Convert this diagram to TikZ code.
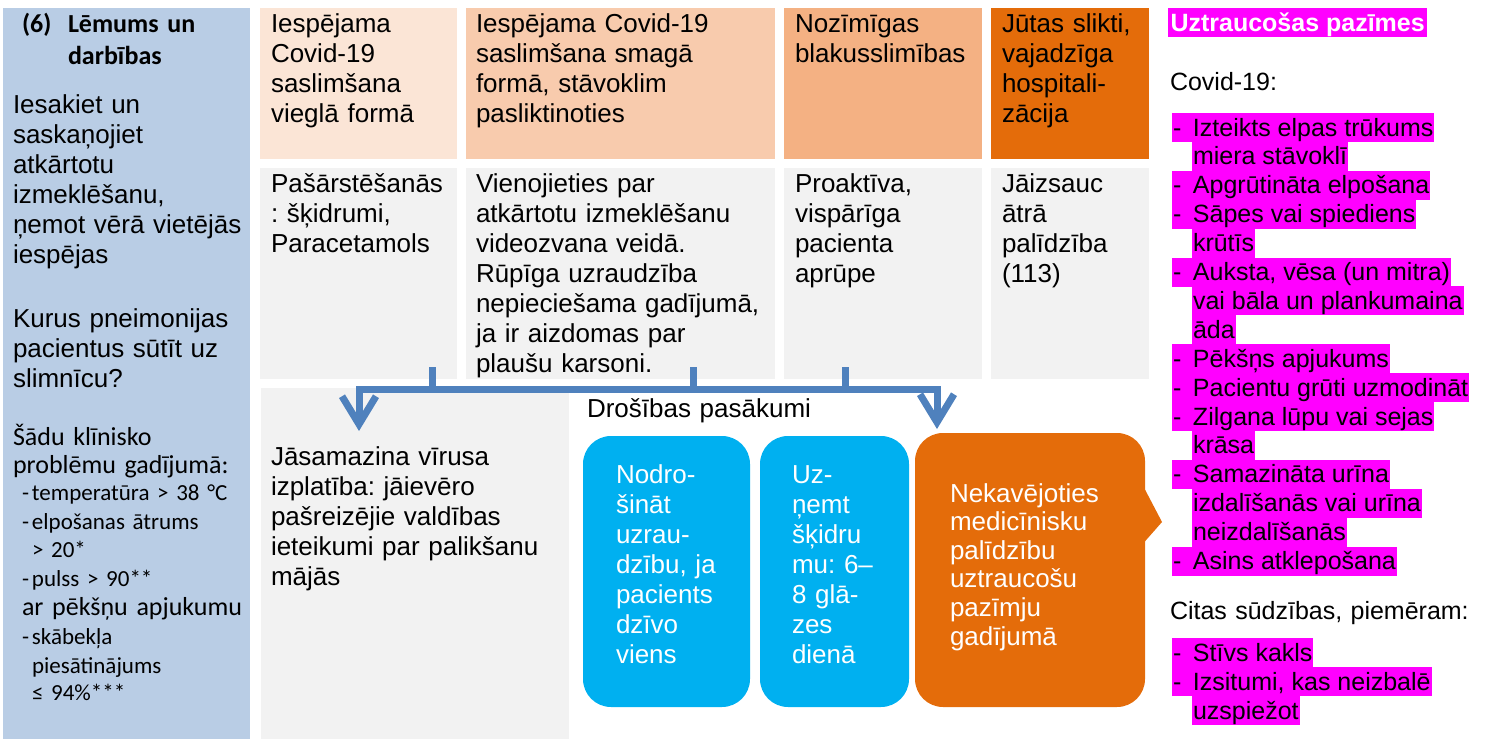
\documentclass[tikz,border=0pt]{standalone}
\usepackage{fontspec}
\setmainfont{Liberation Sans}
\newfontfamily\calfont{Carlito}
\usetikzlibrary{arrows.meta}
\definecolor{sidebg}{HTML}{B9CDE5}
\definecolor{peachA}{HTML}{FBE5D6}
\definecolor{peachB}{HTML}{F8CBAD}
\definecolor{peachC}{HTML}{F4B183}
\definecolor{darkorange}{HTML}{E46C0A}
\definecolor{cellgrey}{HTML}{F2F2F2}
\definecolor{skyblue}{HTML}{00B0F0}
\definecolor{flowblue}{HTML}{4F81BD}
\definecolor{warnpink}{HTML}{FF00FF}
\frenchspacing
\begin{document}
\begin{tikzpicture}[x=1pt,y=-1pt,
  every node/.style={inner sep=0pt,outer sep=0pt},
  cell/.style={anchor=north west,minimum width=#1},
  txt/.style={anchor=base west,text width=330pt,align=left,font=\fontsize{26}{30}\selectfont},
  wtxt/.style={txt,text=white},
  hl/.style={anchor=north west,fill=warnpink,inner xsep=1pt,text height=23pt,text depth=6pt,font=\fontsize{25}{29}\selectfont},
  flow/.style={draw=flowblue,line width=7pt},
  flowarrow/.style={flow,{Straight Barb[length=28pt,width=34pt]}-{Straight Barb[length=28pt,width=34pt]}}]
  \useasboundingbox (0,0) rectangle (1486,739);
  % left panel
  \node[cell=247pt,minimum height=731pt,fill=sidebg] (side) at (3,8) {};
  \node[txt,font=\calfont\bfseries\fontsize{26}{32}\selectfont] (num) at (22,32) {(6)};
  \node[txt,font=\calfont\bfseries\fontsize{26}{32}\selectfont] (title) at (68,32) {Lēmums un\\darbības};
  \node[txt] (advice) at (13,113) {Iesakiet un\\saskaņojiet\\atkārtotu\\izmeklēšanu,\\ņemot vērā vietējās\\iespējas};
  \node[txt] (ask) at (13,327) {Kurus pneimonijas\\pacientus sūtīt uz\\slimnīcu?};
  \foreach \xx/\yy/\fs/\lbl [count=\n] in {13/445/26/Šādu klīnisko,13/473/26/problēmu gadījumā:,
      22/500/23/\makebox[10pt][l]{-}temperatūra > 38 °C,22/529/23/\makebox[10pt][l]{-}elpošanas ātrums,
      32/557/23/> 20*,22/586/23/\makebox[10pt][l]{-}pulss > 90**,22/615/26/ar pēkšņu apjukumu,
      22/644/23/\makebox[10pt][l]{-}skābekļa,32/673/23/piesātinājums,32/700/23/≤ 94\%***}
    \node[txt,font=\calfont\fontsize{\fs}{\fs}\selectfont] (crit\n) at (\xx,\yy) {\lbl};
  % grid of cells
  \foreach \xx/\ww/\cc [count=\n] in {260/197/peachA,466/309/peachB,784/198/peachC,991/158/darkorange}{
    \node[cell=\ww pt,minimum height=151pt,fill=\cc] (h\n) at (\xx,8) {};
    \node[cell=\ww pt,minimum height=211pt,fill=cellgrey] (r\n) at (\xx,168) {};
  }
  \node[txt] (h1t) at ([shift={(11,24)}]h1.north west) {Iespējama\\Covid-19\\saslimšana\\vieglā formā};
  \node[txt] (h2t) at ([shift={(10,24)}]h2.north west) {Iespējama Covid-19\\saslimšana smagā\\formā, stāvoklim\\pasliktinoties};
  \node[txt] (h3t) at ([shift={(11,24)}]h3.north west) {Nozīmīgas\\blakusslimības};
  \node[txt] (h4t) at ([shift={(11,24)}]h4.north west) {Jūtas slikti,\\vajadzīga\\hospitali-\\zācija};
  \node[txt] (r1t) at ([shift={(11,24)}]r1.north west) {Pašārstēšanās\\: šķidrumi,\\Paracetamols};
  \node[txt] (r2t) at ([shift={(10,24)}]r2.north west) {Vienojieties par\\atkārtotu izmeklēšanu\\videozvana veidā.\\Rūpīga uzraudzība\\nepieciešama gadījumā,\\ja ir aizdomas par\\plaušu karsoni.};
  \node[txt] (r3t) at ([shift={(11,24)}]r3.north west) {Proaktīva,\\vispārīga\\pacienta\\aprūpe};
  \node[txt] (r4t) at ([shift={(11,24)}]r4.north west) {Jāizsauc\\ātrā\\palīdzība\\(113)};
  % lower part
  \node[cell=308pt,minimum height=351pt,fill=cellgrey] (home) at (261,388) {};
  \node[txt] (homet) at ([shift={(10,77)}]home.north west) {Jāsamazina vīrusa\\izplatība: jāievēro\\pašreizējie valdības\\ieteikumi par palikšanu\\mājās};
  \node[txt] (safe) at (587,417) {Drošības pasākumi};
  \node[cell=167pt,minimum height=271pt,fill=skyblue,rounded corners=28pt] (alone) at (583,436) {};
  \node[wtxt] (alonet) at ([shift={(33,47)}]alone.north west) {Nodro-\\šināt\\uzrau-\\dzību, ja\\pacients\\dzīvo\\viens};
  \node[cell=149pt,minimum height=271pt,fill=skyblue,rounded corners=28pt] (fluid) at (760,436) {};
  \node[wtxt] (fluidt) at ([shift={(32,47)}]fluid.north west) {Uz-\\ņemt\\šķidru\\mu: 6–\\8 glā-\\zes\\dienā};
  \node[cell=230pt,minimum height=274pt,fill=darkorange,rounded corners=28pt] (urgent) at (915,433) {};
  \fill[darkorange] (1140,480) -- (1162,522) -- (1140,547) -- cycle;
  \node[wtxt,font=\fontsize{26}{28.6}\selectfont] (urgentt) at ([shift={(35,69)}]urgent.north west) {Nekavējoties\\medicīnisku\\palīdzību\\uztraucošu\\pazīmju\\gadījumā};
  % arrows
  \coordinate (busL) at (359,389);
  \coordinate (busR) at (937,389);
  \coordinate (tipL) at (359,431);
  \coordinate (tipR) at (937,429);
  \foreach \xx [count=\n] in {432,693,845}{
    \coordinate (s\n) at (\xx,367);
    \draw[flow] (s\n) -- (s\n |- busL);
  }
  \draw[flowarrow] (tipL) -- (busL) -- (busR) -- (tipR);
  % warning signs
  \node[anchor=north west,fill=warnpink,text=white,font=\bfseries\fontsize{25}{29}\selectfont,inner xsep=2.5pt,text height=23pt,text depth=6pt] (signs) at (1168,8) {Uztraucošas pazīmes};
  \node[txt,font=\fontsize{25}{29}\selectfont] (covid) at (1170,90) {Covid-19:};
  \foreach \k/\lbl in {0/Izteikts elpas trūkums,2/Apgrūtināta elpošana,3/Sāpes vai spiediens,5/{Auksta, vēsa (un mitra)},
      8/Pēkšņs apjukums,9/Pacientu grūti uzmodināt,10/Zilgana lūpu vai sejas,12/Samazināta urīna,15/Asins atklepošana}
    \node[hl] (d\k) at (1172,{113+28.9*\k}) {\makebox[20pt][l]{-}\lbl};
  \foreach \k/\lbl in {1/miera stāvoklī,4/krūtīs,6/vai bāla un plankumaina,7/āda,11/krāsa,13/izdalīšanās vai urīna,14/neizdalīšanās}
    \node[hl] (c\k) at (1192,{113+28.9*\k}) {\lbl};
  \node[txt,font=\fontsize{25}{29}\selectfont] (other) at (1170,619) {Citas sūdzības, piemēram:};
  \node[hl] (o1) at (1172,638) {\makebox[20pt][l]{-}Stīvs kakls};
  \node[hl] (o2) at (1172,667) {\makebox[20pt][l]{-}Izsitumi, kas neizbalē};
  \node[hl] (o3) at (1192,696) {uzspiežot};
\end{tikzpicture}
\end{document}
